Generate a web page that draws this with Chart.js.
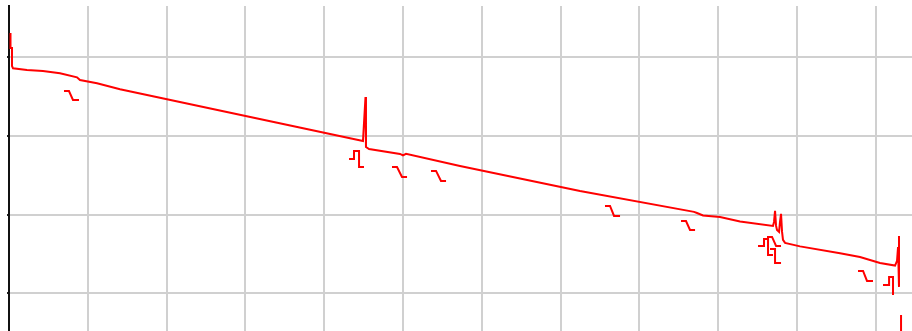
<!DOCTYPE html>
<html>
<head>
<meta charset="utf-8">
<script src="https://cdn.jsdelivr.net/npm/chart.js@4/dist/chart.umd.min.js"></script>
<style>
  html, body { margin: 0; padding: 0; background: #fff; }
  #wrap { width: 912px; height: 331px; }
</style>
</head>
<body>
<div id="wrap"><canvas id="c" width="912" height="331"></canvas></div>
<script>
// OTDR trace: distance (km) vs. level (dB)
const traceKm = [0.019, 0.019, 0.038, 0.038, 0.051, 0.228, 0.431, 0.647, 0.863, 0.901, 1.117, 1.409,
  4.492, 4.505, 4.524, 4.530, 4.569, 4.962, 5.000, 5.038, 5.723, 7.246, 8.693, 8.731, 8.807, 9.023,
  9.277, 9.695, 9.708, 9.721, 9.734, 9.746, 9.772, 9.784, 9.797, 9.810, 9.822, 9.848, 10.038, 10.546,
  10.799, 11.053, 11.244, 11.269, 11.282, 11.294, 11.294, 11.307, 11.320, 11.320];
const traceDb = [21.52, 20.57, 20.57, 19.43, 19.28, 19.18, 19.11, 18.97, 18.71, 18.54, 18.33, 17.95,
  14.67, 15.81, 17.46, 14.29, 14.16, 13.85, 13.75, 13.85, 13.08, 11.50, 10.17, 10.10, 9.94, 9.85,
  9.56, 9.28, 9.53, 10.23, 9.28, 9.02, 8.90, 9.53, 10.04, 8.90, 8.39, 8.20, 7.98, 7.54,
  7.31, 6.93, 6.76, 7.06, 7.94, 8.64, 5.41, null, 3.63, 2.50];

// Event markers drawn under the trace (null separates markers)
const markKm = [0.698, 0.761, 0.812, 0.888, null,
  4.315, 4.378, 4.378, 4.442, 4.442, 4.505, null,
  4.860, 4.924, 4.987, 5.051, null,
  5.355, 5.419, 5.482, 5.546, null,
  7.563, 7.627, 7.678, 7.754, null,
  8.528, 8.591, 8.642, 8.706, null,
  9.505, 9.581, 9.581, 9.632, 9.632, 9.695, null,
  9.619, 9.683, 9.734, 9.797, null,
  9.657, 9.721, 9.721, 9.797, null,
  10.774, 10.838, 10.888, 10.964, null,
  11.091, 11.168, 11.168, 11.218, 11.218];
const markDb = [17.84, 17.84, 17.27, 17.27, null,
  13.53, 13.53, 14.04, 14.04, 13.02, 13.02, null,
  13.02, 13.02, 12.39, 12.39, null,
  12.77, 12.77, 12.13, 12.13, null,
  10.55, 10.55, 9.91, 9.91, null,
  9.59, 9.59, 9.02, 9.02, null,
  8.01, 8.01, 8.45, 8.45, 7.44, 7.44, null,
  8.58, 8.58, 8.01, 8.01, null,
  7.82, 7.82, 6.93, 6.93, null,
  6.42, 6.42, 5.79, 5.79, null,
  5.53, 5.53, 6.04, 6.04, 4.90];

const xTicksKm = [1, 2, 3, 4, 5, 6, 7, 8, 9, 10, 11];
const yTicksDb = [5, 10, 15, 20];

const toPoints = (xs, ys) => xs.map((x, i) => ({ x: x === null ? NaN : x, y: ys[i] }));

const keepTicks = list => scale => {
  scale.ticks = list.map(v => ({ value: v }));
};

new Chart(document.getElementById('c'), {
  type: 'line',
  data: {
    datasets: [
      {
        label: 'trace',
        data: toPoints(traceKm, traceDb),
        borderColor: '#ff0000',
        borderWidth: 2,
        pointRadius: 0,
        tension: 0,
        spanGaps: false
      },
      {
        label: 'events',
        data: toPoints(markKm, markDb),
        borderColor: '#ff0000',
        borderWidth: 2,
        pointRadius: 0,
        tension: 0,
        spanGaps: false
      }
    ]
  },
  options: {
    responsive: false,
    devicePixelRatio: 1,
    animation: false,
    layout: { padding: { top: 6, left: 0, right: 0, bottom: 0 } },
    plugins: { legend: { display: false }, tooltip: { enabled: false } },
    scales: {
      x: {
        type: 'linear',
        min: 0,
        max: 11.459,
        afterBuildTicks: keepTicks(xTicksKm),
        afterFit: s => { s.height = 0; },
        ticks: { display: false },
        grid: { color: '#d0d0d0', lineWidth: 2, drawTicks: false },
        border: { display: false }
      },
      y: {
        type: 'linear',
        min: 2.61,
        max: 23.236,
        afterBuildTicks: keepTicks(yTicksDb),
        afterFit: s => { s.width = 9; },
        ticks: { display: false },
        grid: { color: '#d0d0d0', lineWidth: 2, drawTicks: true, tickLength: 2, tickColor: '#222' },
        border: { display: true, color: '#111', width: 2 }
      }
    }
  }
});
</script>
</body>
</html>
